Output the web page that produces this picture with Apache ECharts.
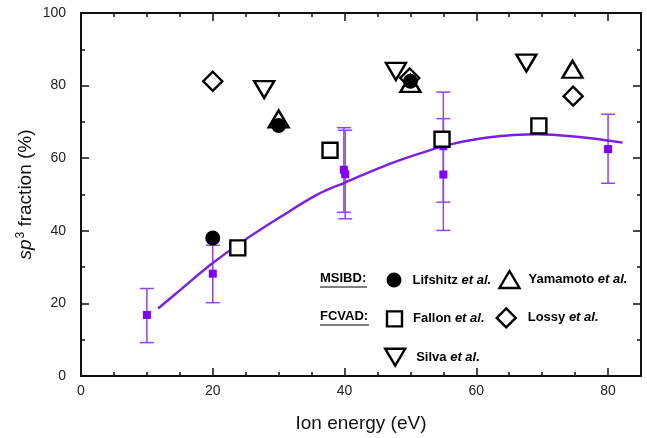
<!DOCTYPE html>
<html>
<head>
<meta charset="utf-8">
<script src="https://cdn.jsdelivr.net/npm/echarts@6/dist/echarts.min.js"></script>
<style>html,body{margin:0;padding:0;background:#fff;}#c{width:647px;height:438px;}</style>
</head>
<body>
<div id="c"></div>
<script>
// ---- data ----
const xTicks = [0, 20, 40, 60, 80];
const yTicks = [0, 20, 40, 60, 80, 100];

// Purple measurements with error bars
const purpleX = [10, 20, 39.9, 40.1, 55, 55, 80];
const purpleY = [16.8, 28.2, 56.8, 55.6, 63.3, 55.5, 62.5];
const errLow  = [9.2, 20.2, 45.1, 43.3, 47.9, 40.1, 53.1];
const errHigh = [24.1, 36.0, 68.4, 67.7, 78.2, 70.9, 72.1];

// Fit curve
const curveX = [11.7, 15, 19.7, 24, 30, 36, 40.1, 46.1, 51.1, 56.1, 61.7, 69.2, 75.2, 82.2];
const curveY = [18.6, 23.6, 30.7, 36.4, 43.5, 50.1, 53.3, 57.9, 61.1, 63.8, 65.7, 66.6, 65.9, 64.3];

// Literature values
const lifX = [20, 30, 50];          const lifY = [38.0, 69.0, 81.2];
const yamX = [30, 50, 74.6];        const yamY = [70.8, 80.6, 84.5];
const falX = [23.8, 37.8, 54.8, 69.5]; const falY = [35.3, 62.2, 65.2, 68.9];
const losX = [20, 49.9, 74.7];      const losY = [81.2, 82.1, 77.1];
const silX = [27.8, 47.8, 67.6];    const silY = [78.9, 83.9, 86.2];

// ---- build ----
const zip = (a, b) => a.map((v, i) => [v, b[i]]);
const FONT = 'Liberation Sans, Arial, Helvetica, sans-serif';
const AX = '#111';
const PURPLE = '#7f00ff';
const LINE = '#7b1fe8';
const ERR = '#9045e8';
const DOWN_TRI = 'path://M0,0 L20,0 L10,17 Z';

const openStyle = {color: '#fff', borderColor: '#000', borderWidth: 2.4, opacity: 1};

function xAxisBase(pos, major, showLabel) {
  const ax = {
    type: 'value', min: 0, max: 85, position: pos, gridIndex: 0,
    splitLine: {show: false},
    axisLine: {show: !major, onZero: false, lineStyle: {color: AX, width: 2}},
    axisTick: {show: true, inside: true, length: major ? 8 : 4, lineStyle: {color: AX, width: 1.5}},
    axisLabel: {show: false}
  };
  if (major) {
    ax.axisTick.customValues = xTicks;
  } else {
    ax.interval = 5;
  }
  if (showLabel) {
    ax.axisLabel = {show: true, interval: 0, margin: 8, color: '#222', fontSize: 14, fontFamily: FONT,
      formatter: v => (xTicks.indexOf(v) >= 0 ? String(v) : '')};
    ax.name = 'Ion energy (eV)';
    ax.nameLocation = 'middle';
    ax.nameGap = 38;
    ax.nameMoveOverlap = false;
    ax.nameTextStyle = {fontSize: 19, color: '#111', fontFamily: FONT};
  }
  return ax;
}

function yAxisBase(pos, showLabel) {
  const ax = {
    type: 'value', min: 0, max: 100, interval: 20, position: pos,
    splitLine: {show: false},
    axisLine: {show: true, onZero: false, lineStyle: {color: AX, width: 2}},
    axisTick: {show: true, inside: true, length: 8, lineStyle: {color: AX, width: 1.5}},
    minorTick: {show: true, splitNumber: 2, length: 4, lineStyle: {color: AX, width: 1.5}},
    axisLabel: {show: false}
  };
  if (showLabel) {
    ax.axisLabel = {show: true, margin: 15, color: '#222', fontSize: 14, fontFamily: FONT};
    ax.name = '{i|sp}{s|3} fraction (%)';
    ax.nameLocation = 'middle';
    ax.nameGap = 44;
    ax.nameMoveOverlap = false;
    ax.nameTextStyle = {fontSize: 19, color: '#111', fontFamily: FONT,
      rich: {
        i: {fontSize: 19, fontStyle: 'italic', fontFamily: FONT, color: '#111'},
        s: {fontSize: 12, fontFamily: FONT, color: '#111', verticalAlign: 'top', padding: [0, 0, 10, 1]}
      }};
  }
  return ax;
}

const legendText = {fontSize: 13, fontWeight: 'bold', color: '#000', fontFamily: FONT,
  rich: {i: {fontSize: 13, fontWeight: 'bold', fontStyle: 'italic', color: '#000', fontFamily: FONT}}};

function mkLegend(name, left, top, w, h, pad, filled) {
  return {
    data: [{name: name, itemStyle: filled
      ? {color: '#000', borderWidth: 0, opacity: 1}
      : {color: '#fff', borderColor: '#000', borderWidth: 2.4, opacity: 1}}],
    left: left, top: top, padding: 0, itemWidth: w, itemHeight: h,
    selectedMode: false, orient: 'horizontal',
    formatter: n => n + ' {i|et al.}',
    textStyle: Object.assign({}, legendText, {padding: [0, 0, 0, pad]})
  };
}

const option = {
  animation: false,
  backgroundColor: '#fff',
  grid: {left: 81, right: 6, top: 13, bottom: 60, containLabel: false},
  xAxis: [
    xAxisBase('bottom', false, true),
    xAxisBase('bottom', true, false),
    xAxisBase('top', false, false),
    xAxisBase('top', true, false)
  ],
  yAxis: [yAxisBase('left', true), yAxisBase('right', false)],
  legend: [
    mkLegend('Lifshitz', 386.5, 272.5, 15, 15, 6, true),
    mkLegend('Yamamoto', 498.3, 269.8, 20, 17, 4, false),
    mkLegend('Fallon', 385.8, 310.2, 15, 15, 6, false),
    mkLegend('Lossy', 495.5, 307.2, 19, 19, 7, false),
    mkLegend('Silva', 384, 347.5, 20, 17, 6, false)
  ],
  graphic: [
    {type: 'text', left: 320, top: 272, style: {text: 'MSIBD:', font: 'bold 13px ' + FONT, fill: '#000'}},
    {type: 'line', shape: {x1: 320, y1: 287, x2: 367, y2: 287}, style: {stroke: '#000', lineWidth: 1.2}},
    {type: 'text', left: 320, top: 310, style: {text: 'FCVAD:', font: 'bold 13px ' + FONT, fill: '#000'}},
    {type: 'line', shape: {x1: 320, y1: 325, x2: 369, y2: 325}, style: {stroke: '#000', lineWidth: 1.2}}
  ],
  series: [
    {
      name: 'error', type: 'custom', z: 2,
      data: purpleX.map((x, i) => [x, errLow[i], errHigh[i]]),
      encode: {x: 0, y: [1, 2]},
      renderItem: function (params, api) {
        const x = api.value(0), lo = api.value(1), hi = api.value(2);
        const pLo = api.coord([x, lo]);
        const pHi = api.coord([x, hi]);
        const hw = 7;
        const st = {stroke: ERR, lineWidth: 1.5, fill: null};
        return {type: 'group', children: [
          {type: 'line', shape: {x1: pLo[0], y1: pLo[1], x2: pHi[0], y2: pHi[1]}, style: st},
          {type: 'line', shape: {x1: pLo[0] - hw, y1: pLo[1], x2: pLo[0] + hw, y2: pLo[1]}, style: st},
          {type: 'line', shape: {x1: pHi[0] - hw, y1: pHi[1], x2: pHi[0] + hw, y2: pHi[1]}, style: st}
        ]};
      }
    },
    {
      name: 'fit', type: 'line', smooth: 0.4, symbol: 'none', z: 3,
      data: zip(curveX, curveY),
      lineStyle: {color: LINE, width: 2.4}
    },
    {
      name: 'measured', type: 'scatter', symbol: 'rect', symbolSize: 8, z: 4,
      data: zip(purpleX, purpleY), itemStyle: {color: PURPLE, opacity: 1}
    },
    {name: 'Fallon', type: 'scatter', symbol: 'rect', symbolSize: 15, z: 5,
      data: zip(falX, falY), itemStyle: openStyle},
    {name: 'Silva', type: 'scatter', symbol: DOWN_TRI, symbolSize: [20, 17], z: 5,
      data: zip(silX, silY), itemStyle: openStyle},
    {name: 'Lossy', type: 'scatter', symbol: 'diamond', symbolSize: 19, z: 6,
      data: zip(losX, losY), itemStyle: openStyle},
    {name: 'Yamamoto', type: 'scatter', symbol: 'triangle', symbolSize: [20, 17], z: 6,
      data: zip(yamX, yamY), itemStyle: openStyle},
    {name: 'Lifshitz', type: 'scatter', symbol: 'circle', symbolSize: 15, z: 7,
      data: zip(lifX, lifY), itemStyle: {color: '#000', opacity: 1}}
  ]
};

const chart = echarts.init(document.getElementById('c'), null, {renderer: 'canvas'});
chart.setOption(option);
</script>
</body>
</html>
